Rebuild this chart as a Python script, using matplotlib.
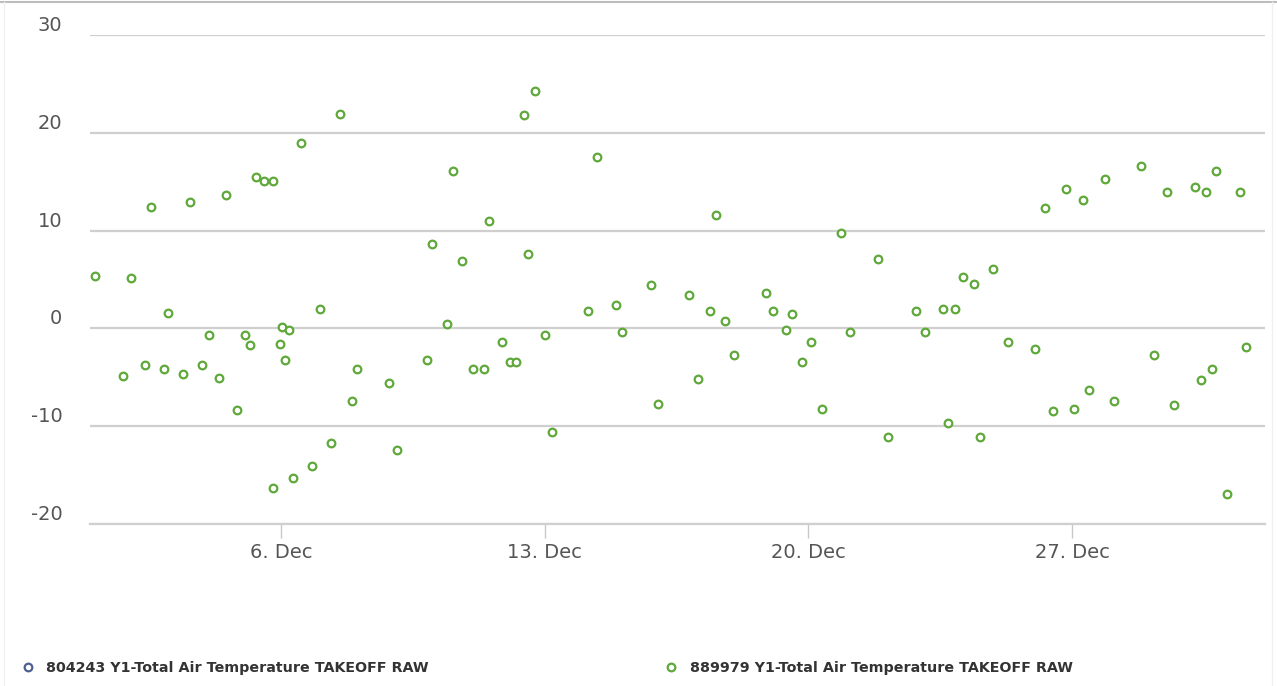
import pandas as pd
import matplotlib
matplotlib.use('Agg')
from matplotlib import pyplot as plt
from matplotlib.lines import Line2D

# readings: day of December (fractional) and temperature
days = [1.06, 1.81, 2.02, 2.39, 2.55, 2.89, 3.00, 3.40, 3.58, 3.90,
        4.09, 4.35, 4.54, 4.83, 5.04, 5.18, 5.34, 5.55, 5.79, 5.79,
        5.97, 6.03, 6.11, 6.21, 6.32, 6.53, 6.82, 7.04, 7.33, 7.57,
        7.88, 8.02, 8.87, 9.08, 9.88, 10.01, 10.41, 10.57, 10.80, 11.10,
        11.39, 11.52, 11.87, 12.08, 12.24, 12.45, 12.56, 12.74, 13.01, 13.19,
        14.15, 14.39, 14.89, 15.05, 15.82, 16.01, 16.83, 17.07, 17.39, 17.55,
        17.79, 18.03, 18.88, 19.06, 19.41, 19.57, 19.83, 20.07, 20.36, 20.86,
        21.10, 21.85, 22.11, 22.86, 23.10, 23.57, 23.71, 23.89, 24.10, 24.40,
        24.56, 24.90, 25.30, 26.02, 26.28, 26.49, 26.84, 27.05, 27.29, 27.45,
        27.87, 28.11, 28.83, 29.17, 29.52, 29.71, 30.26, 30.42, 30.56, 30.71,
        30.82, 31.11, 31.46, 31.62]
temps = [5.4, -4.9, 5.1, -3.7, 12.4, -4.2, 1.6, -4.7, 12.9, -3.7,
         -0.7, -5.1, 13.6, -8.3, -0.7, -1.7, 15.5, 15.1, 15.1, -16.3,
         -1.6, 0.1, -3.2, -0.2, -15.3, 19.0, -14.1, 2.0, -11.7, 21.9,
         -7.4, -4.2, -5.6, -12.4, -3.2, 8.6, 0.4, 16.1, 6.9, -4.2,
         -4.2, 11.0, -1.4, -3.4, -3.4, 21.8, 7.6, 24.3, -0.7, -10.6,
         1.8, 17.5, 2.4, -0.4, 4.4, -7.7, 3.4, -5.2, 1.8, 11.6,
         0.8, -2.7, 3.6, 1.8, -0.2, 1.5, -3.4, -1.4, -8.2, 9.8,
         -0.4, 7.1, -11.1, 1.8, -0.4, 2.0, -9.7, 2.0, 5.3, 4.5,
         -11.1, 6.1, -1.4, -2.1, 12.3, -8.4, 14.3, -8.2, 13.1, -6.3,
         15.3, -7.4, 16.6, -2.7, 13.9, -7.8, 14.5, -5.3, 13.9, -4.2,
         16.1, -16.9, 13.9, -1.9]

series_names = ['804243 Y1-Total Air Temperature TAKEOFF RAW',
                '889979 Y1-Total Air Temperature TAKEOFF RAW']
yticks = [-20, -10, 0, 10, 20, 30]
xtick_days = [6, 13, 20, 27]
xtick_labels = ['6. Dec', '13. Dec', '20. Dec', '27. Dec']

start = pd.Timestamp('2020-12-01')
times = start + pd.to_timedelta([d - 1 for d in days], unit='D')
xticks = start + pd.to_timedelta([d - 1 for d in xtick_days], unit='D')

green = '#5fa83a'
blue = '#4e5f93'
grid_col = '#cfcfcf'

fig = plt.figure(figsize=(12.77, 6.86), dpi=100)
ax = fig.add_axes([0.0705, 0.2362, 0.9201, 0.7128])

ax.plot([], [], linestyle='none', marker='o', markersize=5.5, markerfacecolor='white',
        markeredgecolor=blue, markeredgewidth=1.6, label=series_names[0])
ax.plot(times, temps, linestyle='none', marker='o', markersize=5.5, markerfacecolor='white',
        markeredgecolor=green, markeredgewidth=1.6, label=series_names[1])

ax.set_ylim(-20, 30)
ax.set_xlim(start - pd.Timedelta(hours=1.7), start + pd.Timedelta(days=31, hours=3))

ax.set_yticks(yticks)
ax.set_yticklabels([str(v) for v in yticks])
for lab in ax.get_yticklabels():
    lab.set_verticalalignment('bottom')
ax.tick_params(axis='y', length=0, pad=20, labelsize=14, labelcolor='#555555')
ax.grid(axis='y', color=grid_col, linewidth=1.6)
ax.set_axisbelow(True)

ax.set_xticks(xticks)
ax.set_xticklabels(xtick_labels)
ax.tick_params(axis='x', length=10, width=1, color='#c8c8c8', pad=4,
               labelsize=14, labelcolor='#555555')

for s in ['top', 'right', 'left']:
    ax.spines[s].set_visible(False)
ax.spines['bottom'].set_color(grid_col)
ax.spines['bottom'].set_linewidth(1.6)

fig.legend(loc='center left', bbox_to_anchor=(0.006, 0.026), ncol=2, frameon=False,
           handlelength=1.0, handletextpad=0.8, columnspacing=16.45,
           prop={'weight': 'bold', 'size': 10.3})
for t in fig.legends[0].get_texts():
    t.set_color('#333333')

# card border
fig.add_artist(Line2D([0, 1], [0.997, 0.997], color='#bdbdbd', linewidth=1.5,
                      transform=fig.transFigure))
fig.add_artist(Line2D([0.003, 0.003], [0, 0.997], color='#f0f0f0', linewidth=1,
                      transform=fig.transFigure))
fig.add_artist(Line2D([0.996, 0.996], [0, 0.997], color='#f0f0f0', linewidth=1,
                      transform=fig.transFigure))

fig.savefig('out.png', dpi=100)
